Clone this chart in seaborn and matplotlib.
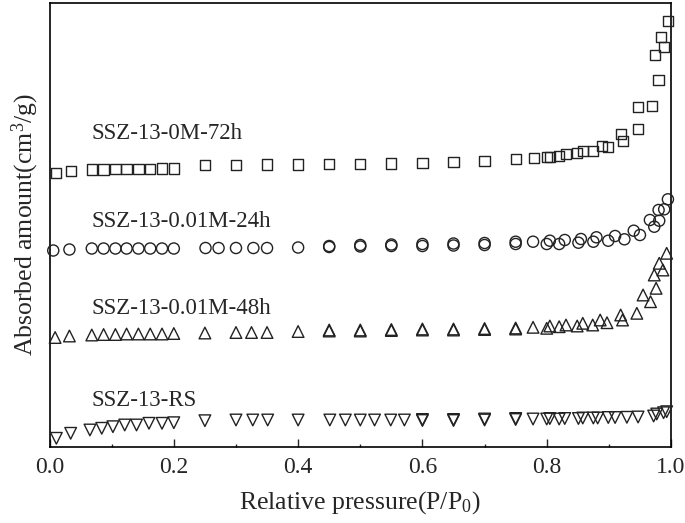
import numpy as np
import pandas as pd
import matplotlib
matplotlib.use("Agg")
import matplotlib.pyplot as plt
import seaborn as sns

# readings from the picture: relative pressure and height above the x axis (px units)
p_72h = [0.011, 0.034, 0.068, 0.087, 0.106, 0.124, 0.143, 0.162, 0.181, 0.20,
         0.25, 0.30, 0.35, 0.40, 0.45, 0.50, 0.55, 0.60, 0.65, 0.70, 0.75,
         0.78, 0.80, 0.805, 0.82, 0.831, 0.849, 0.859, 0.875, 0.889, 0.899,
         0.919, 0.923, 0.947, 0.947, 0.969, 0.974, 0.98, 0.984, 0.989, 0.995]
v_72h = [274, 276, 277.5, 277.5, 278, 278, 278, 278, 278.5, 278.5,
         282, 282, 282.5, 282.5, 283, 283, 283.5, 284, 285, 286, 287.7,
         289.3, 289.7, 290.3, 291.3, 293, 293.7, 296, 296, 301.3, 299.7,
         313, 306, 339.7, 317.7, 341, 392, 367, 409.7, 400.3, 426.3]

p_24h = [0.006, 0.032, 0.068, 0.087, 0.106, 0.124, 0.143, 0.162, 0.181, 0.20,
         0.251, 0.272, 0.30, 0.328, 0.35, 0.40, 0.45, 0.45, 0.50, 0.50,
         0.55, 0.55, 0.60, 0.60, 0.65, 0.65, 0.70, 0.70, 0.75, 0.75,
         0.778, 0.80, 0.805, 0.82, 0.829, 0.851, 0.855, 0.875, 0.88, 0.899,
         0.91, 0.925, 0.94, 0.95, 0.966, 0.973, 0.981, 0.98, 0.989, 0.995]
v_24h = [196.5, 197.5, 198.5, 198.5, 198.5, 198.5, 198.5, 198.5, 198.5, 198.5,
         199, 199, 199, 199, 199, 199.5, 200, 201, 200.5, 202,
         201, 202.5, 201, 203, 201.5, 203.5, 202, 204, 203, 205.3,
         205.3, 203, 206.3, 203, 207, 204.3, 208, 205.3, 209.7, 206.3,
         211, 207.7, 216.3, 212, 227, 220.3, 226.3, 237, 237.7, 247.7]

p_48h = [0.009, 0.032, 0.068, 0.087, 0.106, 0.124, 0.143, 0.162, 0.181, 0.20,
         0.25, 0.30, 0.325, 0.35, 0.40, 0.45, 0.45, 0.50, 0.50, 0.55, 0.55,
         0.60, 0.60, 0.65, 0.65, 0.70, 0.70, 0.75, 0.75, 0.778, 0.80, 0.805,
         0.82, 0.831, 0.849, 0.858, 0.874, 0.886, 0.897, 0.919, 0.922, 0.945,
         0.955, 0.967, 0.976, 0.973, 0.981, 0.987, 0.993]
v_48h = [109.5, 111, 112, 112.5, 112.5, 113, 113, 113, 113, 113.5,
         114, 114.5, 114.5, 114.5, 115.5, 116, 117, 116, 117, 116.5, 117.5,
         117, 118, 117, 118, 117.5, 118.5, 118, 119, 119.7, 118.7, 121,
         120.3, 122, 121, 123.7, 122, 127, 124.3, 132, 127, 133.7,
         152, 145.3, 158.7, 172, 183.7, 177, 193.7]

p_rs = [0.011, 0.034, 0.065, 0.084, 0.102, 0.121, 0.14, 0.16, 0.181, 0.20,
        0.25, 0.30, 0.327, 0.351, 0.40, 0.451, 0.476, 0.50, 0.523, 0.549,
        0.571, 0.60, 0.60, 0.65, 0.65, 0.70, 0.70, 0.75, 0.75, 0.778, 0.80,
        0.805, 0.82, 0.829, 0.851, 0.858, 0.875, 0.882, 0.899, 0.91, 0.929,
        0.947, 0.972, 0.977, 0.988, 0.993]
v_rs = [8.7, 13.7, 17, 18.7, 20.3, 22, 22, 23.7, 23.7, 24.3,
        26.3, 27, 27, 27, 27, 27, 27, 27, 27, 27,
        27, 26.5, 27.5, 26.5, 27.5, 27, 28, 27.5, 28.5, 28, 28,
        28.5, 28, 28.5, 28.5, 29, 29, 29, 29.5, 29.5, 29.7,
        30, 31, 33, 34.3, 35.3]

sample_names = ["SSZ-13-0M-72h", "SSZ-13-0.01M-24h", "SSZ-13-0.01M-48h", "SSZ-13-RS"]
label_y = [314, 226, 139, 47]
x_ticks = [0.0, 0.2, 0.4, 0.6, 0.8, 1.0]

sns.set_style("ticks")
plt.rcParams['font.family'] = ['Liberation Serif', 'DejaVu Serif']
plt.rcParams['mathtext.fontset'] = 'custom'
plt.rcParams['mathtext.rm'] = 'Liberation Serif'
plt.rcParams['mathtext.it'] = 'Liberation Serif:italic'

fig = plt.figure(figsize=(6.85, 5.23), dpi=100)
ax = fig.add_axes([0.0723, 0.1453, 0.9073, 0.8499])

series = [(p_72h, v_72h, "s", 54), (p_24h, v_24h, "o", 64),
          (p_48h, v_48h, "^", 70), (p_rs, v_rs, "v", 70)]
for px, vy, mk, size in series:
    df = pd.DataFrame({"p": px, "v": vy})
    sns.scatterplot(data=df, x="p", y="v", marker=mk, s=size, ax=ax,
                    facecolor="none", edgecolor="#222222", linewidth=1.0,
                    clip_on=False, zorder=3)

for name, ty in zip(sample_names, label_y):
    ax.text(0.068, ty, name, fontsize=16.5, va="center", ha="left")

ax.set_xlim(0, 1.0)
ax.set_ylim(0, 444.5)
ax.set_xticks(x_ticks)
ax.set_xticklabels(["%.1f" % t for t in x_ticks], fontsize=17)
ax.set_xticks(np.arange(0.1, 1.0, 0.2), minor=True)
ax.set_yticks([])
ax.tick_params(axis="x", which="major", direction="in", length=6, width=1.0, pad=7)
ax.tick_params(axis="x", which="minor", direction="in", length=2.5, width=1.0)
for sp in ax.spines.values():
    sp.set_linewidth(1.2)
    sp.set_color("black")

ax.set_xlabel("Relative pressure(P/P$_0$)", fontsize=18.5, labelpad=8)
ax.set_ylabel("Absorbed amount(cm$^3$/g)", fontsize=18.5, labelpad=6)

fig.savefig("out.png", dpi=100)
